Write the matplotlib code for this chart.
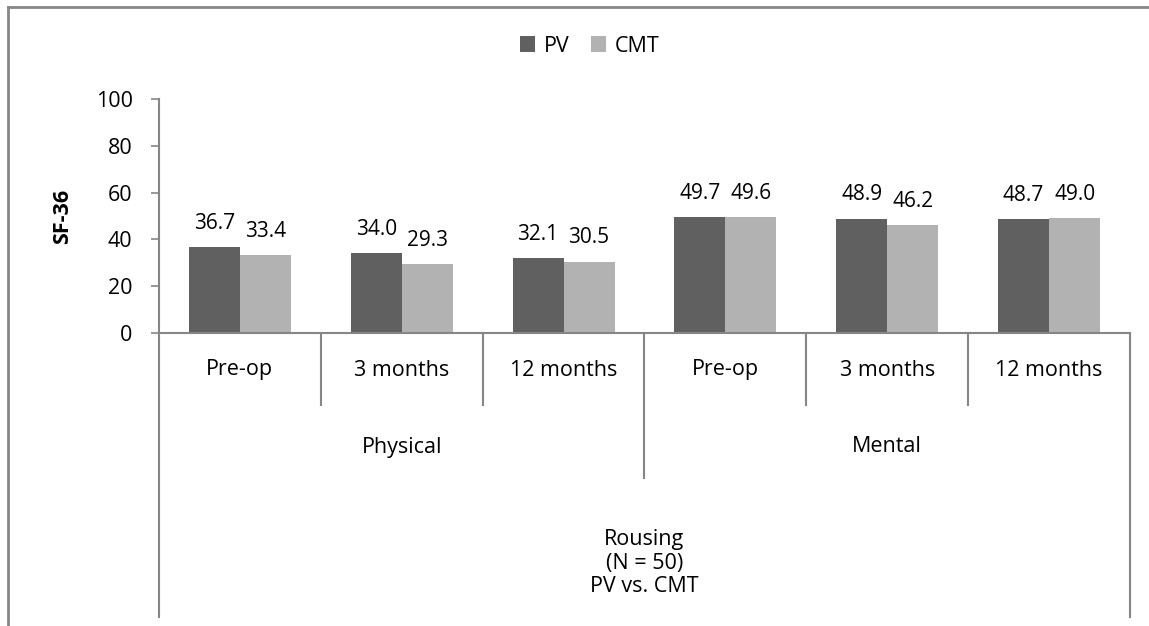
import matplotlib.pyplot as plt
import matplotlib.lines as mlines
from matplotlib.transforms import blended_transform_factory
import numpy as np

plt.rcParams['font.family'] = ['Open Sans', 'DejaVu Sans']

# Data
periods = ['Pre-op', '3 months', '12 months', 'Pre-op', '3 months', '12 months']
groups = ['Physical', 'Mental']
pv = [36.7, 34.0, 32.1, 49.7, 48.9, 48.7]
cmt = [33.4, 29.3, 30.5, 49.6, 46.2, 49.0]
series_names = ['PV', 'CMT']
outer_label = ['Rousing', '(N = 50)', 'PV vs. CMT']

W, H = 1149, 626
fig = plt.figure(figsize=(W / 100, H / 100), dpi=100)
ax = fig.add_axes([159 / W, 1 - 332.7 / H, (1130 - 159) / W, (332.7 - 99.3) / H])

grey = '#868686'
dark = '#606060'
light = '#b2b2b2'
fs = 15.5

x = np.arange(len(periods))
bw = 0.315
b1 = ax.bar(x - bw / 2, pv, bw, color=dark, label=series_names[0])
b2 = ax.bar(x + bw / 2, cmt, bw, color=light, label=series_names[1])

# value labels above the bars
for bars, vals in [(b1, pv), (b2, cmt)]:
    for rect, v in zip(bars, vals):
        ax.annotate(f'{v:.1f}', (rect.get_x() + rect.get_width() / 2, v),
                    xytext=(0, 17), textcoords='offset points',
                    ha='center', va='center', fontsize=fs - 0.5)

ax.set_xlim(-0.5, len(periods) - 0.5)
ax.set_ylim(0, 100)
ax.set_yticks(np.arange(0, 101, 20))
ax.tick_params(axis='y', length=6, width=1.2, color=grey, labelsize=fs, pad=13)
ax.set_xticks([])
for s in ['top', 'right']:
    ax.spines[s].set_visible(False)
for s in ['left', 'bottom']:
    ax.spines[s].set_color(grey)
    ax.spines[s].set_linewidth(1.5)
ax.set_ylabel('SF-36', fontsize=fs, fontweight='bold', labelpad=16)

# multi-level category axis (excel style)
tr = blended_transform_factory(ax.transData, fig.transFigure)
def fy(py):
    return 1 - py / H

for b in np.arange(0.5, len(periods) - 0.5, 1.0):
    end = 478 if b == 2.5 else 405
    ax.add_line(mlines.Line2D([b, b], [fy(332.7), fy(end)], transform=tr,
                              color=grey, lw=1.5, clip_on=False))
for b in [-0.5, len(periods) - 0.5]:
    ax.add_line(mlines.Line2D([b, b], [fy(332.7), fy(617)], transform=tr,
                              color=grey, lw=1.5, clip_on=False))

for xi, lab in zip(x, periods):
    ax.text(xi, fy(370), lab, transform=tr, ha='center', va='center', fontsize=fs)
for gi, g in enumerate(groups):
    ax.text(gi * 3 + 1, fy(447), g, transform=tr, ha='center', va='center', fontsize=fs)
for line, py in zip(outer_label, [540, 563.5, 587]):
    ax.text((len(periods) - 1) / 2, fy(py), line, transform=tr, ha='center',
            va='center', fontsize=fs)

# legend
fig.legend(handles=[b1, b2], loc='center', bbox_to_anchor=(590 / W, 1 - 46 / H),
           ncol=2, frameon=False, fontsize=fs, handlelength=0.7, handleheight=0.7,
           handletextpad=0.4, columnspacing=1.0)

# chart border
fig.add_artist(mlines.Line2D([8 / W, 8 / W], [0, fy(7)], color=grey, lw=2))
fig.add_artist(mlines.Line2D([8 / W, 1], [fy(7), fy(7)], color=grey, lw=2))

fig.savefig('out.png', dpi=100)
